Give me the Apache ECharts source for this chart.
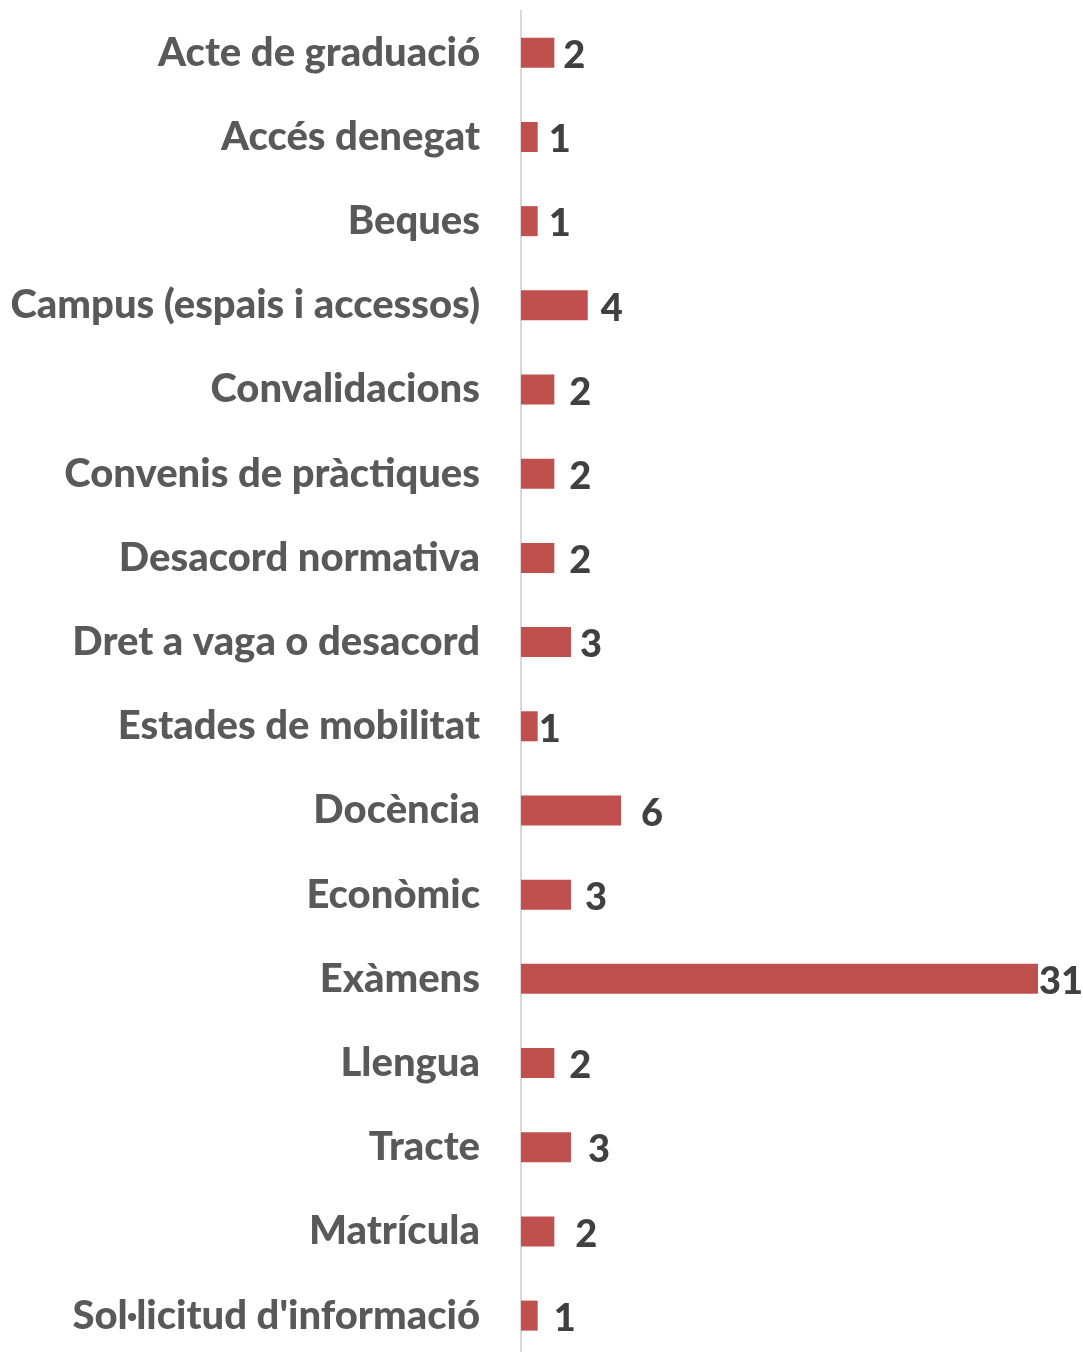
<!DOCTYPE html>
<html>
<head>
<meta charset="utf-8">
<script src="https://cdn.jsdelivr.net/npm/echarts@6/dist/echarts.min.js"></script>
<style>
  html, body { margin: 0; padding: 0; background: #fff; overflow: hidden; }
  #chart { width: 1083px; height: 1362px; }
</style>
</head>
<body>
<div id="chart"></div>
<script>
// categories and counts, top to bottom
const categories = [
  'Acte de graduació',
  'Accés denegat',
  'Beques',
  'Campus (espais i accessos)',
  'Convalidacions',
  'Convenis de pràctiques',
  'Desacord normativa',
  'Dret a vaga o desacord',
  'Estades de mobilitat',
  'Docència',
  'Econòmic',
  'Exàmens',
  'Llengua',
  'Tracte',
  'Matrícula',
  "Sol·licitud d'informació"
]
const counts = [2, 1, 1, 4, 2, 2, 2, 3, 1, 6, 3, 31, 2, 3, 2, 1]

// gap between bar end and its value label (labels were nudged by hand in the original)
const labelGap = [9, 11, 11, 13, 15, 15, 15, 9, 1, 20, 14, 1, 15, 17, 21, 16]

const myChart = echarts.init(document.getElementById('chart'))
myChart.setOption({
  animation: false,
  grid: {
    left: 521,
    right: 45,
    top: 10.7,
    height: 1347,
    containLabel: false,
  },
  xAxis: {
    type: 'value',
    min: 0,
    max: 31,
    show: false,
  },
  yAxis: {
    type: 'category',
    data: categories,
    inverse: true,
    axisTick: { show: false },
    axisLine: {
      show: true,
      lineStyle: { color: '#d9d9d9', width: 2 },
    },
    axisLabel: {
      margin: 41,
      color: '#595959',
      fontFamily: 'Lato',
      fontWeight: 900,
      fontSize: 40,
    },
  },
  series: [
    {
      type: 'bar',
      barWidth: 30,
      data: counts.map((v, i) => ({
        value: v,
        label: { distance: labelGap[i] },
      })),
      itemStyle: {
        color: '#c0504d',
      },
      label: {
        show: true,
        position: 'right',
        offset: [0, 3],
        color: '#404040',
        fontFamily: 'Lato',
        fontWeight: 900,
        fontSize: 38,
      },
    },
  ],
})
</script>
</body>
</html>
